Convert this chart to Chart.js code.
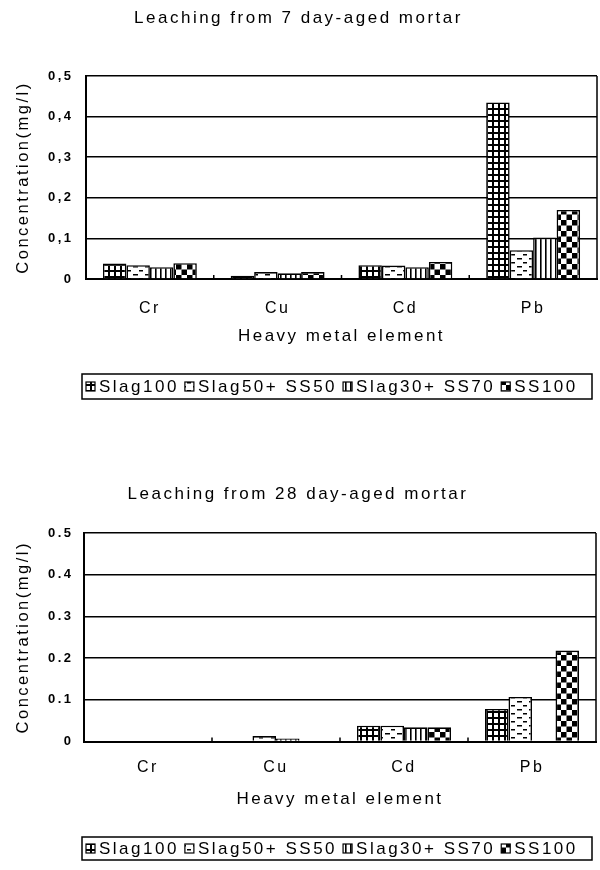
<!DOCTYPE html>
<html><head><meta charset="utf-8">
<script src="https://cdn.jsdelivr.net/npm/chart.js@4"></script>
<style>
html,body{margin:0;padding:0;background:#fff;}
.wrap{position:absolute;left:0;width:600px;height:435px;}
canvas{display:block;}
</style></head><body>
<div class="wrap" style="top:0"><canvas id="c7" width="600" height="435"></canvas></div>
<div class="wrap" style="top:435px"><canvas id="c28" width="600" height="435"></canvas></div>
<script>
const categories = ['Cr', 'Cu', 'Cd', 'Pb'];
const seriesNames = ['Slag100', 'Slag50+ SS50', 'Slag30+ SS70', 'SS100'];

const day7Slag100 = [0.038, 0.008, 0.034, 0.435];
const day7Slag50SS50 = [0.034, 0.017, 0.033, 0.071];
const day7Slag30SS70 = [0.029, 0.014, 0.029, 0.102];
const day7SS100 = [0.039, 0.017, 0.042, 0.170];

const day28Slag100 = [0, 0, 0.038, 0.078];
const day28Slag50SS50 = [0, 0.013, 0.038, 0.107];
const day28Slag30SS70 = [0, 0.007, 0.034, 0];
const day28SS100 = [0, 0, 0.034, 0.218];

const yTicks7 = ['0', '0,1', '0,2', '0,3', '0,4', '0,5'];
const yTicks28 = ['0', '0.1', '0.2', '0.3', '0.4', '0.5'];

const FONT = "'Liberation Sans', Arial, sans-serif";
const SPACING = 2.5;

const ctxTmp = document.createElement('canvas').getContext('2d');
function pat(w, h, draw) {
  const c = document.createElement('canvas');
  c.width = w; c.height = h;
  const g = c.getContext('2d');
  g.fillStyle = '#fff'; g.fillRect(0, 0, w, h);
  g.fillStyle = '#000';
  draw(g);
  return ctxTmp.createPattern(c, 'repeat');
}
const patGrid = pat(6, 6, g => { g.fillRect(0, 0, 6, 2); g.fillRect(0, 0, 2, 6); });
const patDash = pat(12, 8, g => { g.fillRect(1, 2, 5, 1.5); g.fillRect(7, 6, 4, 1.5); });
const patVert = pat(5, 4, g => { g.fillRect(0, 0, 1.6, 4); });
const patCheck = pat(11, 11, g => { g.fillRect(0, 0, 5.5, 5.5); g.fillRect(5.5, 5.5, 5.5, 5.5); });
const patterns = [patGrid, patDash, patVert, patCheck];

const spacingPlugin = {
  id: 'spacing',
  beforeUpdate(chart) { chart.ctx.letterSpacing = SPACING + 'px'; },
  beforeLayout(chart) { chart.ctx.letterSpacing = SPACING + 'px'; },
  beforeDraw(chart) { chart.ctx.letterSpacing = SPACING + 'px'; }
};

const framePlugin = {
  id: 'frame',
  afterDraw(chart) {
    const {ctx, chartArea: a, scales: {x}} = chart;
    ctx.save();
    ctx.strokeStyle = '#000';
    ctx.lineWidth = 1.5;
    ctx.beginPath();
    ctx.moveTo(a.right, a.top); ctx.lineTo(a.right, a.bottom);
    for (let i = 1; i < categories.length; i++) {
      const bx = (x.getPixelForTick(i - 1) + x.getPixelForTick(i)) / 2;
      ctx.moveTo(bx, a.bottom); ctx.lineTo(bx, a.bottom - 4);
    }
    ctx.stroke();
    ctx.restore();
  }
};

const boxLegendPlugin = {
  id: 'boxLegend',
  afterDraw(chart, args, opts) {
    const ctx = chart.ctx;
    ctx.save();
    ctx.letterSpacing = SPACING + 'px';
    ctx.strokeStyle = '#000';
    ctx.lineWidth = 1.5;
    ctx.strokeRect(opts.left, opts.top, opts.right - opts.left, opts.height);
    ctx.font = '17px ' + FONT;
    ctx.textBaseline = 'middle';
    const cy = opts.top + opts.height / 2;
    let xpos = opts.left + 4;
    chart.data.datasets.forEach(ds => {
      ctx.fillStyle = ds.backgroundColor;
      ctx.fillRect(xpos, cy - 4.5, 9, 9);
      ctx.lineWidth = 1.2;
      ctx.strokeRect(xpos, cy - 4.5, 9, 9);
      ctx.fillStyle = '#000';
      ctx.fillText(ds.label, xpos + 13, cy + 1);
      ctx.letterSpacing = '0px';
      const w = ctx.measureText(ds.label).width + ds.label.length * SPACING;
      ctx.letterSpacing = SPACING + 'px';
      xpos += 13 + w + 6;
    });
    ctx.restore();
  }
};

function makeChart(id, title, series, yTicks, geo) {
  return new Chart(document.getElementById(id), {
    type: 'bar',
    data: {
      labels: categories,
      datasets: series.map((vals, i) => ({
        label: seriesNames[i],
        data: vals,
        backgroundColor: patterns[i],
        borderColor: '#000',
        borderWidth: 1.6,
        categoryPercentage: 0.735,
        barPercentage: 1.0
      }))
    },
    options: {
      responsive: false,
      animation: false,
      layout: { padding: { left: 0, right: geo.padRight, top: 0, bottom: geo.padBottom } },
      plugins: {
        legend: { display: false },
        tooltip: { enabled: false },
        title: {
          display: true, text: title, color: '#000',
          font: { size: 17, family: FONT, weight: 'normal' },
          padding: { top: geo.titleTop, bottom: geo.titleBottom }
        },
        boxLegend: { left: 82, right: 592, top: geo.legTop, height: geo.legH }
      },
      scales: {
        x: {
          afterFit(s) { s.height = geo.xH; },
          grid: { display: true, drawOnChartArea: false, drawTicks: false },
          border: { display: true, color: '#000', width: 2 },
          ticks: { color: '#000', font: { size: 16, family: FONT }, padding: geo.xPad, maxRotation: 0 },
          title: { display: true, text: 'Heavy metal element', color: '#000',
                   font: { size: 17, family: FONT }, padding: { top: 0, bottom: 0 } }
        },
        y: {
          min: 0, max: 0.5,
          afterFit(s) { s.width = geo.yW; },
          grid: { color: '#000', lineWidth: 1.6, drawTicks: false },
          border: { display: true, color: '#000', width: 2 },
          ticks: { stepSize: 0.1, color: '#000', padding: geo.yPad,
                   font: { size: 13, family: FONT, weight: 'bold' },
                   callback: (v, i) => yTicks[i] },
          title: { display: true, text: 'Concentration(mg/l)', color: '#000',
                   font: { size: 16.5, family: FONT }, padding: { top: 13.4, bottom: 0 } }
        }
      }
    },
    plugins: [spacingPlugin, framePlugin, boxLegendPlugin]
  });
}

makeChart('c7', 'Leaching from 7 day-aged mortar',
  [day7Slag100, day7Slag50SS50, day7Slag30SS70, day7SS100], yTicks7,
  { padRight: 3, padBottom: 88, titleTop: 8, titleBottom: 47.6, xH: 68, xPad: 19.5, yW: 86, yPad: 12.5, legTop: 374, legH: 25 });

makeChart('c28', 'Leaching from 28 day-aged mortar',
  [day28Slag100, day28Slag50SS50, day28Slag30SS70, day28SS100], yTicks28,
  { padRight: 4, padBottom: 60, titleTop: 48.8, titleBottom: 28.8, xH: 68.5, xPad: 16.8, yW: 84, yPad: 10.5, legTop: 402, legH: 23 });
</script>
</body></html>
